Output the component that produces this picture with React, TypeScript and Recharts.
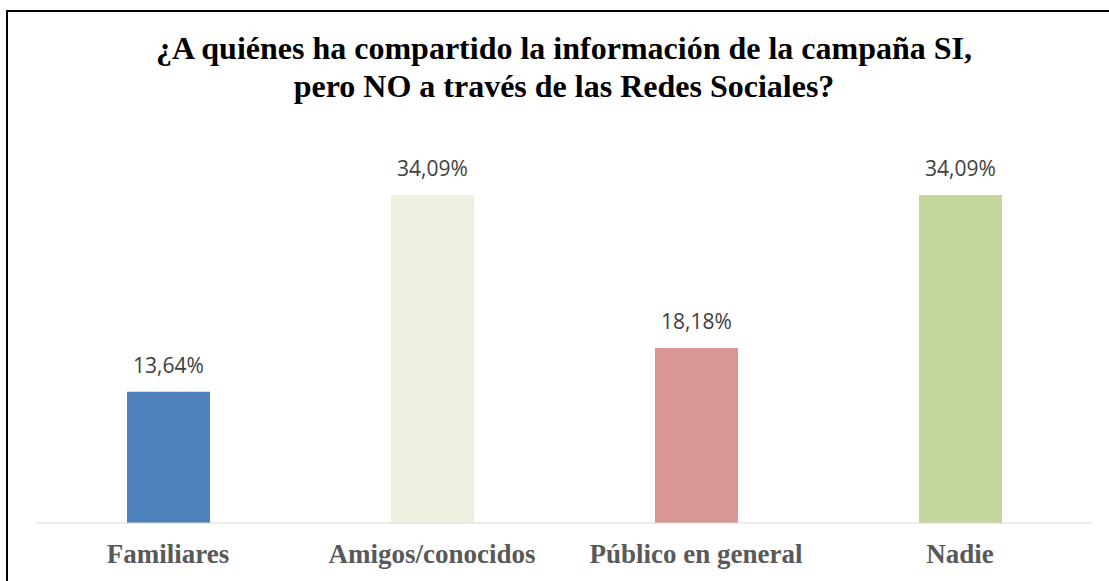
import React from 'react'
import { BarChart, Bar, XAxis, YAxis, Cell, LabelList } from 'recharts'

const categories = ['Familiares', 'Amigos/conocidos', 'Público en general', 'Nadie']
const shares = [13.64, 34.09, 18.18, 34.09]
const barColors = ['#4F81BD', '#EBF1DE', '#D99694', '#C3D69B']
const titleLines = [
  '¿A quiénes ha compartido la información de la campaña SI,',
  'pero NO a través de las Redes Sociales?',
]

const data = categories.map((name, i) => ({ name, value: shares[i] }))

const fmt = (v: any) => `${Number(v).toFixed(2).replace('.', ',')}%`

const CategoryTick = ({ x, y, payload }: any) => (
  <text
    x={x}
    y={y + 32}
    textAnchor="middle"
    fill="#595959"
    fontFamily="'Liberation Serif', 'Times New Roman', serif"
    fontWeight="bold"
    fontSize={27}
  >
    {payload.value}
  </text>
)

const App = () => {
  return (
    <div style={{ position: 'absolute', left: 0, top: 0, width: 1109, height: 581, overflow: 'hidden', background: '#fff' }}>
      <div
        style={{
          position: 'absolute',
          left: 6,
          top: 10,
          width: 1120,
          height: 600,
          border: '2px solid #000',
          boxSizing: 'border-box',
        }}
      />
      <div
        style={{
          position: 'absolute',
          left: 0,
          top: 29,
          width: 1128,
          textAlign: 'center',
          fontFamily: "'Liberation Serif', 'Times New Roman', serif",
          fontWeight: 'bold',
          fontSize: 32,
          lineHeight: '38px',
          color: '#000',
        }}
      >
        {titleLines.map((t) => (
          <div key={t}>{t}</div>
        ))}
      </div>
      <div style={{ position: 'absolute', left: 0, top: 0 }}>
        <BarChart width={1109} height={581} data={data} margin={{ top: 138, right: 17, bottom: 28, left: 36 }}>
          <XAxis
            dataKey="name"
            axisLine={{ stroke: '#D9D9D9', strokeWidth: 1 }}
            tickLine={false}
            tick={<CategoryTick />}
            interval={0}
            height={30}
          />
          <YAxis hide domain={[0, 40]} />
          <Bar dataKey="value" barSize={83} isAnimationActive={false}>
            {data.map((d, i) => (
              <Cell key={d.name} fill={barColors[i]} />
            ))}
            <LabelList
              dataKey="value"
              position="top"
              offset={19}
              formatter={fmt}
              fill="#404040"
              fontSize={21}
              fontFamily="'Open Sans', sans-serif"
            />
          </Bar>
        </BarChart>
      </div>
    </div>
  )
}

export default App
